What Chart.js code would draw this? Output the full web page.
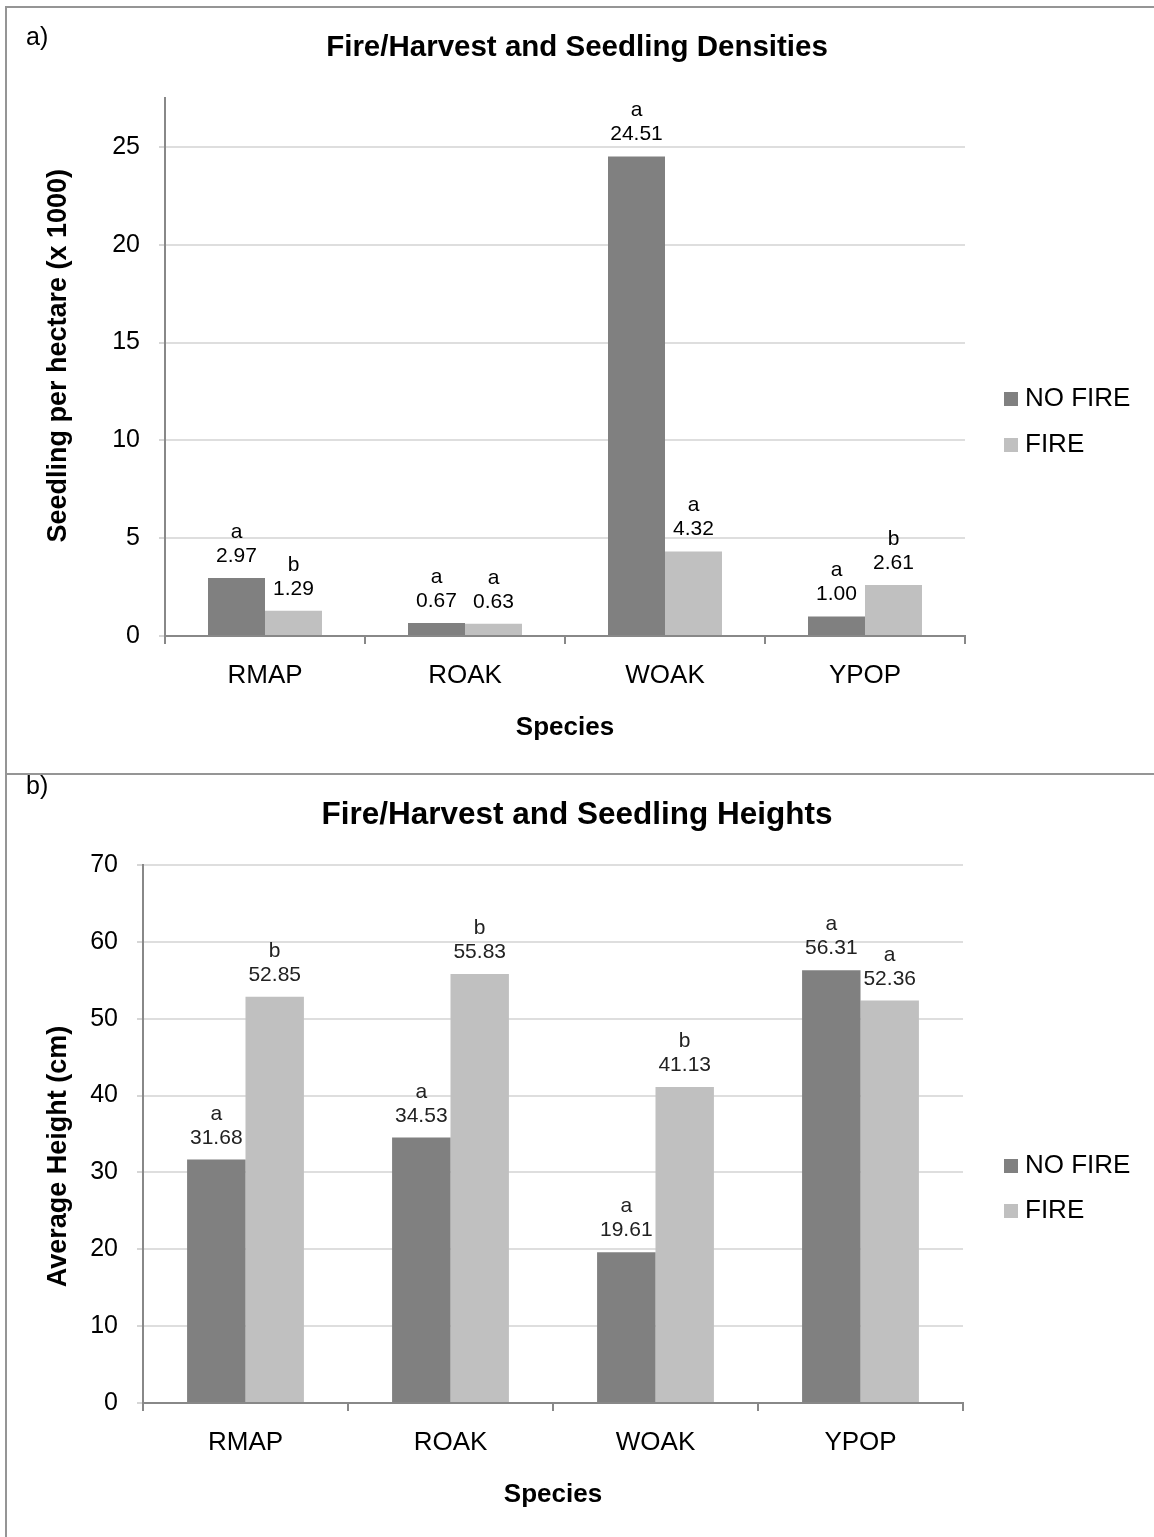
<!DOCTYPE html>
<html>
<head>
<meta charset="utf-8">
<script src="https://cdn.jsdelivr.net/npm/chart.js@4.4.1/dist/chart.umd.min.js"></script>
<style>
  html, body { margin: 0; padding: 0; background: #fff; }
  body { width: 1154px; height: 1537px; position: relative; overflow: hidden; font-family: "Liberation Sans", Arial, sans-serif; }
  canvas { position: absolute; left: 0; }
  #chartA { top: 0; }
  #chartB { top: 774px; }
  .rule { position: absolute; background: #959595; }
  .tag { position: absolute; left: 26px; font-size: 25px; line-height: 25px; color: #000; }
</style>
</head>
<body>
<canvas id="chartA" width="1154" height="774"></canvas>
<canvas id="chartB" width="1154" height="763"></canvas>
<div class="rule" style="left:5px;top:6px;width:1149px;height:2px"></div>
<div class="rule" style="left:5px;top:6px;width:2px;height:1531px"></div>
<div class="rule" style="left:5px;top:773px;width:1149px;height:2px"></div>
<div class="tag" style="top:24px">a)</div>
<div class="tag" style="top:773px">b)</div>

<script>
const FONT = '"Liberation Sans", Arial, sans-serif';

// Shared categories and series
const species = ['RMAP', 'ROAK', 'WOAK', 'YPOP'];
const seriesNames = ['NO FIRE', 'FIRE'];
const seriesColors = ['#808080', '#c0c0c0'];

// a) seedling densities (x 1000 per hectare)
const densityNoFire = [2.97, 0.67, 24.51, 1.00];
const densityFire = [1.29, 0.63, 4.32, 2.61];
const densityNoFireLetters = ['a', 'a', 'a', 'a'];
const densityFireLetters = ['b', 'a', 'a', 'b'];
const densityTicks = [0, 5, 10, 15, 20, 25];

// b) seedling heights (cm)
const heightNoFire = [31.68, 34.53, 19.61, 56.31];
const heightFire = [52.85, 55.83, 41.13, 52.36];
const heightNoFireLetters = ['a', 'a', 'a', 'a'];
const heightFireLetters = ['b', 'b', 'b', 'a'];
const heightTicks = [0, 10, 20, 30, 40, 50, 60, 70];

/**
 * Two-line label above each bar: significance letter, then value
 */
const barLabels = {
  id: 'barLabels',
  afterDatasetsDraw(chart, args, opts) {
    const { ctx } = chart;
    ctx.save();
    ctx.font = `${opts.size}px ${FONT}`;
    ctx.fillStyle = opts.color;
    ctx.textAlign = 'center';
    ctx.textBaseline = 'alphabetic';
    chart.data.datasets.forEach((ds, i) => {
      chart.getDatasetMeta(i).data.forEach((bar, j) => {
        ctx.fillText(ds.data[j].toFixed(2), bar.x, bar.y - opts.gap);
        ctx.fillText(ds.letters[j], bar.x, bar.y - opts.gap - opts.lineGap);
      });
    });
    ctx.restore();
  },
};

/**
 * Legend drawn in the space kept free at the right
 */
const sideLegend = {
  id: 'sideLegend',
  afterDraw(chart, args, opts) {
    const { ctx } = chart;
    ctx.save();
    ctx.font = `${opts.size}px ${FONT}`;
    ctx.textAlign = 'left';
    ctx.textBaseline = 'middle';
    chart.data.datasets.forEach((ds, i) => {
      const y = opts.y + i * opts.rowGap;
      ctx.fillStyle = ds.backgroundColor;
      ctx.fillRect(opts.x, y - opts.box / 2, opts.box, opts.box);
      ctx.fillStyle = '#000';
      ctx.fillText(ds.label, opts.x + opts.box + 7, y);
    });
    ctx.restore();
  },
};

function createDataset(i, data, letters) {
  return {
    label: seriesNames[i],
    data,
    letters,
    backgroundColor: seriesColors[i],
    borderWidth: 0,
    categoryPercentage: 0.57,
    barPercentage: 1.0,
  };
}

function buildOptions(p) {
  return {
    responsive: false,
    animation: false,
    layout: { padding: { left: 0, right: 0, top: 0, bottom: p.padBottom } },
    plugins: {
      legend: { display: false },
      tooltip: { enabled: false },
      title: {
        display: true,
        text: p.title,
        color: '#000',
        font: { family: FONT, size: p.titleSize, weight: 'bold' },
        padding: { top: p.titleTop, bottom: p.titleBottom },
      },
      barLabels: { size: 21, color: p.labelColor, gap: 16, lineGap: 24 },
      sideLegend: { x: 1004, y: p.legendY, rowGap: p.legendGap, box: 14, size: 26 },
    },
    scales: {
      x: {
        grid: { drawOnChartArea: false, drawTicks: true, tickLength: 8, tickColor: '#888', lineWidth: 2, offset: true },
        border: { color: '#888', width: 2, z: 1 },
        ticks: { color: '#000', font: { family: FONT, size: 26 }, padding: 16, autoSkip: false, maxRotation: 0 },
        title: { display: true, text: 'Species', color: '#000', font: { family: FONT, size: 26, weight: 'bold' }, padding: 0 },
        afterFit: (s) => { s.height = 107; },
      },
      y: {
        min: 0,
        max: p.yMax,
        bounds: 'data',
        afterBuildTicks: (s) => { s.ticks = p.yTicks.map((v) => ({ value: v })); },
        grid: { color: '#dedede', lineWidth: 2, tickLength: 6, tickColor: '#d6d6d6' },
        border: { color: '#888', width: 2, z: 1 },
        ticks: { color: '#000', font: { family: FONT, size: 25 }, padding: 19 },
        title: { display: true, text: p.yTitle, color: '#000', font: { family: FONT, size: 27, weight: 'bold' }, padding: { top: 42, bottom: 0 } },
        afterFit: (s) => { s.width = p.yWidth; },
      },
      // empty scale that only keeps room for the legend
      pad: {
        type: 'linear',
        position: 'right',
        grid: { display: false },
        border: { display: false },
        ticks: { display: false },
        afterFit: (s) => { s.width = p.padRight; },
      },
    },
  };
}

new Chart(document.getElementById('chartA'), {
  type: 'bar',
  data: {
    labels: species,
    datasets: [
      createDataset(0, densityNoFire, densityNoFireLetters),
      createDataset(1, densityFire, densityFireLetters),
    ],
  },
  options: buildOptions({
    title: 'Fire/Harvest and Seedling Densities',
    titleSize: 29.5,
    // leading spaces nudge the rotated title up a little
    yTitle: '   Seedling per hectare (x 1000)',
    yMax: 27.5,
    yTicks: densityTicks,
    yWidth: 165,
    padRight: 189,
    padBottom: 31,
    titleTop: 30,
    titleBottom: 32.6,
    legendY: 399,
    legendGap: 46,
    labelColor: '#000',
  }),
  plugins: [barLabels, sideLegend],
});

new Chart(document.getElementById('chartB'), {
  type: 'bar',
  data: {
    labels: species,
    datasets: [
      createDataset(0, heightNoFire, heightNoFireLetters),
      createDataset(1, heightFire, heightFireLetters),
    ],
  },
  options: buildOptions({
    title: 'Fire/Harvest and Seedling Heights',
    titleSize: 31.5,
    // trailing spaces nudge the rotated title down
    yTitle: 'Average Height (cm)      ',
    yMax: 70,
    yTicks: heightTicks,
    yWidth: 143,
    padRight: 191,
    padBottom: 27,
    titleTop: 22.1,
    titleBottom: 31.1,
    legendY: 392,
    legendGap: 45,
    labelColor: '#222',
  }),
  plugins: [barLabels, sideLegend],
});
</script>
</body>
</html>
